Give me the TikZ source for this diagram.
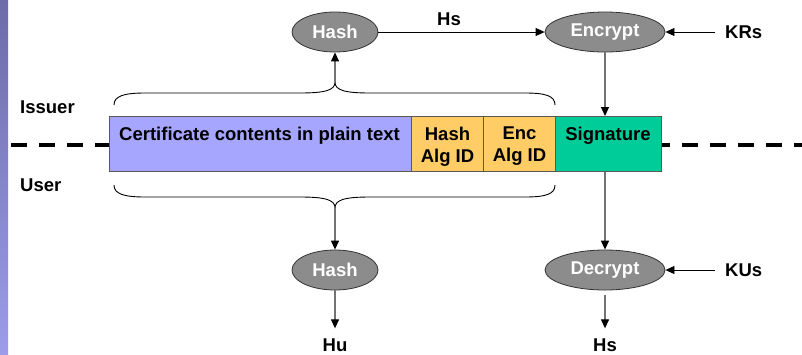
\documentclass[tikz,border=0pt]{standalone}
\usepackage{fontspec}
\setmainfont{Liberation Sans}
\usetikzlibrary{shapes.geometric,arrows.meta}
\definecolor{certblue}{HTML}{A6A6FF}
\definecolor{algorange}{HTML}{FFCC66}
\definecolor{siggreen}{HTML}{00CC99}
\definecolor{ellgray}{HTML}{8C8C8C}
\definecolor{stripdark}{HTML}{6C6CA8}
\definecolor{striplight}{HTML}{9C9CEA}
\begin{document}
\begin{tikzpicture}[x=1pt,y=-1pt,
  lbl/.style={font=\fontsize{18.5}{22}\selectfont\bfseries, inner sep=0pt},
  proc/.style={ellipse, draw=black!80, fill=ellgray, line width=0.8pt, minimum height=40pt,
    inner sep=0pt, text=white, font=\fontsize{18.5}{22}\selectfont\bfseries},
  field/.style={draw=black!65, line width=1pt, minimum height=55pt, inner sep=0pt, anchor=north west},
  arr/.style={-{Triangle[length=9pt,width=8pt,black]}, black, line width=0.8pt},
  varr/.style={arr, draw=black!55, line width=1.2pt},
  dashline/.style={line width=4pt, black, dash pattern=on 16pt off 12pt},
  bracepath/.style={black, line width=0.9pt}
]
\useasboundingbox (0,0) rectangle (802,354);
\fill[white] (0,0) rectangle (802,354);
\shade[top color=stripdark, bottom color=striplight] (0,0) rectangle (8,354);

% divider
\draw[dashline] (11,145) -- (109,145);
\draw[dashline, dash phase=7pt] (661,145) -- (802,145);

% fields
\node[field, fill=certblue, minimum width=302pt] (cert) at (109,116) {};
\node[field, fill=algorange, minimum width=72pt] (halg) at (411,116) {};
\node[field, fill=algorange, minimum width=72pt] (ealg) at (483,116) {};
\node[field, fill=siggreen, minimum width=106pt] (sig) at (555,116) {};

\node[lbl, anchor=base west] (certtxt) at (119,140) {Certificate contents in plain text};
\node[lbl, anchor=north, align=center] (halgtxt) at (halg.north |- 0,126.5) {Hash\\Alg ID};
\node[lbl, anchor=north, align=center] (ealgtxt) at (ealg.north |- 0,126.5) {Enc\\Alg ID};
\node[lbl, anchor=base] (sigtxt) at (608,140) {Signature};

% side labels
\node[lbl, anchor=west] (issuer) at (20,107) {Issuer};
\node[lbl, anchor=west] (user) at (20,185) {User};

% processes
\node[proc, minimum width=86pt] (hashT) at (335,32) {Hash};
\node[proc, minimum width=120pt] (enc) at (605,32) {Encrypt};
\node[proc, minimum width=86pt] (hashB) at (335,270) {Hash};
\node[proc, minimum width=120pt] (dec) at (605,270) {Decrypt};

% texts
\node[lbl] (hsT) at (449,19) {Hs};
\node[lbl, anchor=west] (krs) at (725,32) {KRs};
\node[lbl, anchor=west] (kus) at (725,270) {KUs};
\node[lbl] (hu) at (335,345) {Hu};
\node[lbl] (hsB) at (605,345) {Hs};

% braces
\coordinate (tipT) at (335,82);
\coordinate (tipB) at (335,208);
\draw[bracepath] (114,105) .. controls (114,96) and (124,93) .. (145,93)
  -- (300,93) .. controls (326,93) and (335,90) .. (tipT)
  .. controls (335,90) and (344,93) .. (370,93)
  -- (525,93) .. controls (546,93) and (555,96) .. (555,105);
\draw[bracepath] (114,185) .. controls (114,194) and (124,197) .. (145,197)
  -- (300,197) .. controls (326,197) and (335,200) .. (tipB)
  .. controls (335,200) and (344,197) .. (370,197)
  -- (525,197) .. controls (546,197) and (555,194) .. (555,185);

% connectors
\draw[arr] (hashT) -- (enc);
\draw[arr, shorten <=10pt] (krs.west) -- (enc);
\draw[arr, shorten <=10pt] (kus.west) -- (dec);
\draw[varr] (tipT) -- (hashT);
\draw[varr] (enc) -- (enc |- sig.north);
\draw[varr] (sig.south -| dec) -- (dec);
\draw[varr] (tipB) -- (hashB);
\draw[varr, shorten >=10pt] (hashB) -- (hu);
\draw[varr, shorten <=5pt, shorten >=10pt] (dec) -- (hsB);
\end{tikzpicture}
\end{document}
